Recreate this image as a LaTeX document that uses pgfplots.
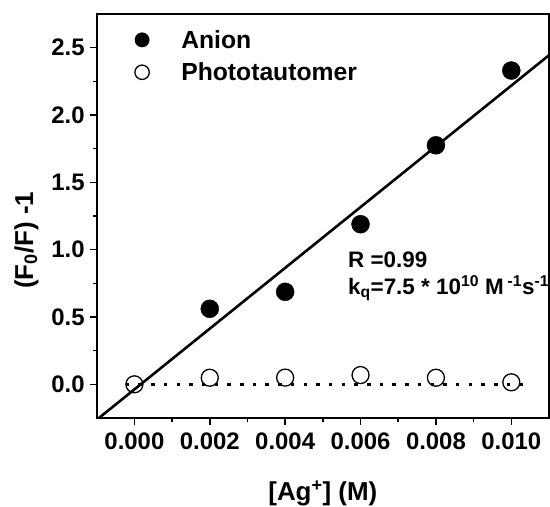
\documentclass[border=0pt]{standalone}
\usepackage{pgfplots}
\pgfplotsset{compat=1.18}
\usepackage{fontspec}
\setmainfont{Liberation Sans}

% Quenching data: (F0/F) - 1 versus silver ion concentration
\pgfplotstableread{
x      anion
0.002  0.561
0.004  0.687
0.006  1.189
0.008  1.775
0.010  2.330
}\anion
\pgfplotstableread{
x      photo
0.000  0.000
0.002  0.049
0.004  0.050
0.006  0.069
0.008  0.049
0.010  0.015
}\photo
% Least-squares line through the anion data, y = 225.6 x - 0.0377
\pgfplotstableread{
x        y
-0.0010  -0.2633
 0.0110   2.4439
}\fit
% Zero baseline
\pgfplotstableread{
x         y
-0.00023  0
 0.01040  0
}\zero

\begin{document}
\begin{tikzpicture}[font=\bfseries]
\useasboundingbox (-96.7bp,-89bp) rectangle (453.3bp,418bp);
\begin{axis}[
  scale only axis,
  width=452.3bp, height=404bp,
  xmin=-0.001, xmax=0.011,
  ymin=-0.25, ymax=2.75,
  axis line style={line width=2.2bp},
  xtick={0,0.002,...,0.0101},
  ytick={0,0.5,...,2.51},
  minor x tick num=1,
  minor y tick num=1,
  tick align=outside,
  xtick pos=bottom, ytick pos=left,
  major tick length=6.5bp, minor tick length=4bp,
  every tick/.style={black, line width=1.6bp},
  scaled x ticks=false,
  xticklabel style={yshift=-5bp, /pgf/number format/.cd, fixed, fixed zerofill, precision=3, assume math mode=true},
  yticklabel style={xshift=-2bp, /pgf/number format/.cd, fixed, fixed zerofill, precision=1, assume math mode=true},
  tick label style={font=\fontsize{24}{28}\selectfont\bfseries},
  xlabel={[Ag\textsuperscript{+}] (M)},
  ylabel={(F\textsubscript{0}/F) -1},
  label style={font=\fontsize{26}{30}\selectfont\bfseries},
  xlabel style={at={(axis description cs:0.5,-0.203)}, anchor=base},
  ylabel style={at={(axis description cs:-0.1408,0.44)}, anchor=base},
  legend style={draw=none, fill=none, at={(0,1)}, anchor=north west,
    xshift=35bp, yshift=-12bp,
    font=\fontsize{24.8}{28}\selectfont\bfseries,
    row sep=9bp,
    /tikz/every odd column/.append style={column sep=30bp}},
  legend cell align=left,
  legend image code/.code={\draw[#1, mark size=7.2bp] plot coordinates {(0bp,0bp)};},
  clip=true,
]
\addplot[black, line width=3bp, dash pattern=on 3.5bp off 9.2bp, forget plot] table[x=x,y=y] {\zero};
\addplot[black, line width=2.6bp, forget plot] table[x=x,y=y] {\fit};
\addplot[only marks, mark=*, mark size=9bp, black, mark options={fill=black}] table[x=x,y=anion] {\anion};
\addlegendentry{Anion}
\addplot[only marks, mark=o, mark size=8.5bp, black, mark options={line width=1.3bp}] table[x=x,y=photo] {\photo};
\addlegendentry{Phototautomer}
\node[anchor=base west, inner sep=0pt, font=\fontsize{22.5}{26}\selectfont\bfseries] at (axis cs:0.005665,0.870) {R =0.99};
\node[anchor=base west, inner sep=0pt, font=\fontsize{22.5}{26}\selectfont\bfseries] at (axis cs:0.005665,0.670)
  {k\textsubscript{q}=7.5 * 10\textsuperscript{10} M\,\textsuperscript{-1}s\textsuperscript{-1}};
\end{axis}
\end{tikzpicture}
\end{document}
